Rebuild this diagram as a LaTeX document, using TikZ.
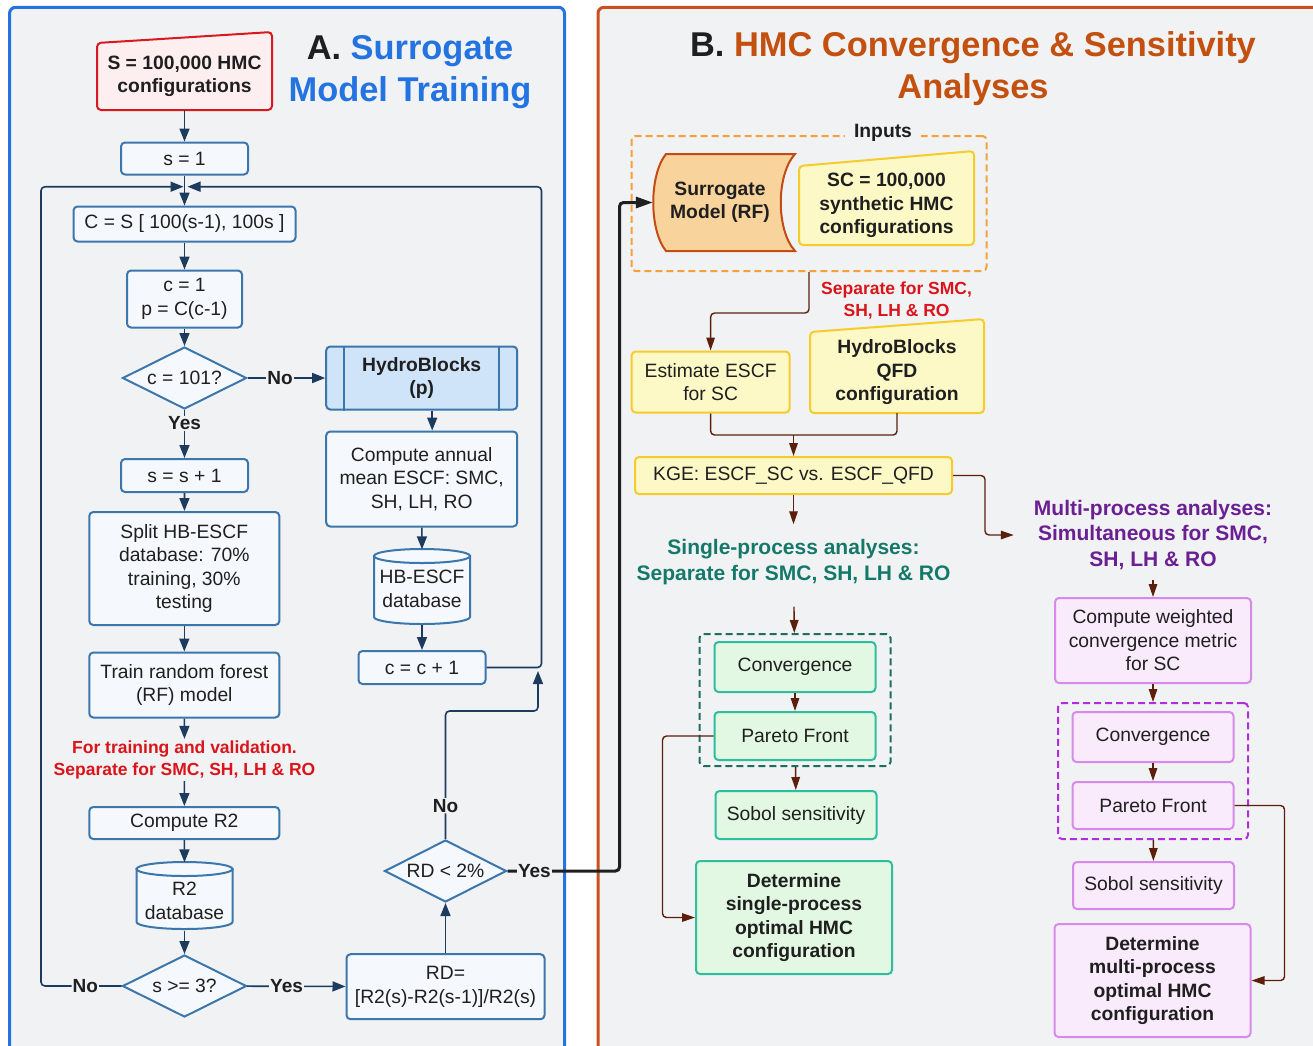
\documentclass[tikz,border=0pt]{standalone}
\usepackage{fontspec}
\setmainfont{Liberation Sans}
\usetikzlibrary{arrows.meta,shapes.geometric,calc}

\definecolor{pagebg}{HTML}{F1F2F4}
\definecolor{ink}{HTML}{1F1F1F}
\definecolor{ablue}{HTML}{2373E0}
\definecolor{aline}{HTML}{3B76AC}
\definecolor{afill}{HTML}{F5F9FD}
\definecolor{anavy}{HTML}{1D3B5E}
\definecolor{hbfill}{HTML}{CFE3F9}
\definecolor{sred}{HTML}{D81920}
\definecolor{sfill}{HTML}{FDEFF0}
\definecolor{notered}{HTML}{D9141B}
\definecolor{borange}{HTML}{C8511D}
\definecolor{btitle}{HTML}{C4500F}
\definecolor{bbrown}{HTML}{5C1F0B}
\definecolor{yline}{HTML}{F6CB2C}
\definecolor{yfill}{HTML}{FDF9C7}
\definecolor{surline}{HTML}{C44B14}
\definecolor{surfill}{HTML}{F8D39C}
\definecolor{indash}{HTML}{F5A03A}
\definecolor{gline}{HTML}{2DBE9E}
\definecolor{gfill}{HTML}{E2F8E2}
\definecolor{gdashc}{HTML}{1E6E5C}
\definecolor{gtext}{HTML}{15796A}
\definecolor{pline}{HTML}{D88AEA}
\definecolor{pfill}{HTML}{F9EAFC}
\definecolor{pdashc}{HTML}{B42CE0}
\definecolor{ptext}{HTML}{6A1F92}

\newcommand\boxfnt{\fontsize{19.3}{23.5}\selectfont}
\newcommand\ttlfnt{\fontsize{34.4}{42}\selectfont\bfseries}
\newcommand\notefnt{\fontsize{17.5}{21.5}\selectfont\bfseries}
\newcommand\headfnt{\fontsize{21}{25.5}\selectfont\bfseries}
\newcommand\ynfnt{\fontsize{19}{22}\selectfont\bfseries}

\begin{document}
\begin{tikzpicture}[x=1pt,y=-1pt,>={Triangle[length=13pt,width=10pt]},
  every node/.style={font=\boxfnt,text=ink},
  abox/.style={draw=aline,fill=afill,line width=2pt,rounded corners=4pt,align=center,inner sep=2pt},
  adia/.style={diamond,aspect=2,draw=aline,fill=afill,line width=2pt,inner sep=0pt,minimum width=124,minimum height=62},
  ybox/.style={abox,draw=yline,fill=yfill},
  gbox/.style={abox,draw=gline,fill=gfill},
  pbox/.style={abox,draw=pline,fill=pfill},
  grpbox/.style={draw=#1,line width=2pt,dash pattern=on 7pt off 4pt,rounded corners=4pt},
  txt/.style={align=center,inner sep=2pt},
  bold/.style={font=\boxfnt\bfseries},
  aarr/.style={->,draw=anavy,line width=1.6pt},
  barr/.style={-{Triangle[length=13pt,width=8.5pt]},draw=bbrown,line width=1.4pt},
  bline/.style={draw=bbrown,line width=1.4pt,rounded corners=4pt},
  yn/.style={fill=pagebg,inner sep=1pt,font=\ynfnt},
  ]

  \def\slantbox#1#2#3#4#5#6{
    \draw[#6,line width=2pt,rounded corners=4pt] (#1,#5) -- (#2,#5) -- (#2,#4) -- (#1,#3) -- cycle;
  }
  \def\dbcyl#1#2#3#4{
    \filldraw[draw=aline,fill=afill,line width=2pt] (#1-#4,#2+7) -- (#1-#4,#3-7)
      arc[start angle=180,end angle=360,x radius=#4pt,y radius=7pt] -- (#1+#4,#2+7) -- cycle;
    \filldraw[draw=aline,fill=afill,line width=2pt] (#1,#2+7) ellipse[x radius=#4pt,y radius=7pt];
  }
  % \draw[gray!30,step=50] (0,0) grid (1313,1045);
  \useasboundingbox (0,0) rectangle (1313,1045);
  \clip (0,0) rectangle (1313,1045);
  \fill[white] (0,0) rectangle (1313,1045);
  \draw[line width=3pt,draw=ablue,fill=pagebg,rounded corners=6pt] (9.6,7.3) rectangle (564.5,1080);
  \draw[line width=3pt,draw=borange,fill=pagebg,rounded corners=6pt] (598,7.3) rectangle (1340,1080);

  % A
  \node[txt,font=\ttlfnt,text=ablue] (titleA) at (410,72) {{\color{ink}A.} Surrogate\\Model Training};
  \slantbox{97}{272}{43}{32}{110}{draw=sred,fill=sfill}
  \node[txt,bold,minimum width=175,minimum height=67] (sin) at (184.5,76.5) {S = 100,000 HMC\\configurations};
  \node[abox,minimum width=127,minimum height=32] (s1) at (184.5,158.5) {s = 1};
  \coordinate (jn) at (184.5,186.7);
  \node[abox,minimum width=222,minimum height=35] (cbox) at (184.5,224) {C = S [ 100(s-1), 100s ]};
  \node[abox,minimum width=115,minimum height=57] (c1) at (184.5,299) {c = 1\\p = C(c-1)};
  \node[adia] (c101) at (184.5,378) {c = 101?};
  \node[abox,bold,fill=hbfill,minimum width=191,minimum height=63] (hb) at (421.7,378) {HydroBlocks\\(p)};
  \draw[aline,line width=2pt] ([xshift=19pt]hb.north west) -- ([xshift=19pt]hb.south west)
    ([xshift=-19pt]hb.north east) -- ([xshift=-19pt]hb.south east);
  \node[abox,minimum width=191,minimum height=95] (cam) at (421.7,479) {Compute annual\\mean ESCF: SMC,\\SH, LH, RO};
  \dbcyl{422}{549}{624}{48}
  \node[txt,minimum width=96,minimum height=71] (hbdb) at (422,589) {HB-ESCF\\database};
  \node[abox,minimum width=127,minimum height=33] (cc1) at (422,667.5) {c = c + 1};
  \node[abox,minimum width=127,minimum height=33] (ss1) at (184.5,475.5) {s = s + 1};
  \node[abox,minimum width=190,minimum height=113] (split) at (184.3,568.5) {Split HB-ESCF\\database: 70\%\\training, 30\%\\testing};
  \node[abox,minimum width=190,minimum height=65] (train) at (184.3,685) {Train random forest\\(RF) model};
  \node[txt,text=notered,font=\notefnt] (noteA) at (184.5,760) {For training and validation.\\Separate for SMC, SH, LH \& RO};
  \node[abox,minimum width=190,minimum height=32] (r2) at (184.3,823) {Compute R2};
  \dbcyl{184.5}{862}{929}{48}
  \node[txt,minimum width=96,minimum height=59] (r2db) at (184.5,901) {R2\\database};
  \node[adia] (s3) at (184.5,986) {s >= 3?};
  \node[abox,minimum width=198,minimum height=65] (rd) at (445.5,986.7) {RD=\\{}[R2(s)-R2(s-1)]/R2(s)};
  \node[adia,minimum width=122] (rd2) at (445.5,871) {RD < 2\%};

  \draw[aarr] (sin) -- (s1);
  \draw[aarr] (s1) -- (cbox);
  \draw[aarr] (cbox) -- (c1);
  \draw[aarr] (c1) -- (c101);
  \draw[aarr] (c101) -- node[yn,pos=0.42]{No} (hb);
  \draw[aarr] ([xshift=10.5pt]hb.south) -- ([xshift=10.5pt]cam.north);
  \draw[aarr] (cam) -- ([yshift=4pt]hbdb.north);
  \draw[aarr] (hbdb) -- (cc1);
  \draw[aarr,rounded corners=4pt] (cc1.east) -- ++(55,0) |- ([xshift=3pt]jn);
  \draw[aarr] (c101) -- node[yn,pos=0.28]{Yes} (ss1);
  \draw[aarr] (ss1) -- (split);
  \draw[aarr] (split) -- (train);
  \draw[aarr] (train) -- (noteA);
  \draw[aarr] (noteA) -- (r2);
  \draw[aarr] (r2) -- ([yshift=9pt]r2db.north);
  \draw[aarr] (r2db) -- (s3);
  \draw[aarr] (s3) -- node[yn,pos=0.4]{Yes} (rd);
  \draw[aarr,rounded corners=4pt] (s3.west) -- node[yn,pos=0.45]{No} ++(-80.5,0) |- ([xshift=-1pt]jn);
  \draw[aarr] (rd) -- (rd2);
  \coordinate (back) at (538,671);
  \draw[aarr,rounded corners=4pt] (rd2.north) -- node[yn,pos=0.26]{No} ++(0,-128) -| (back);

  % B
  \node[txt,font=\ttlfnt,text=btitle] (titleB) at (973,69) {{\color{ink}B.} HMC Convergence \& Sensitivity\\Analyses};
  \node[grpbox=indash,minimum width=355,minimum height=135] (inputs) at (809,203.5) {};
  \node[bold,fill=pagebg,inner xsep=9pt,inner ysep=2pt] (inlbl) at (883,133) {Inputs};
  \draw[draw=surline,fill=surfill,line width=2pt] (666,154) -- (795,154) .. controls (776,175) and (776,230) .. (795,251)
    -- (666,251) .. controls (649,230) and (649,175) .. (666,154) -- cycle;
  \node[txt,bold,minimum width=134,minimum height=97] (surr) at (720,202.5) {Surrogate\\Model (RF)};
  \slantbox{799}{974}{166}{151}{245}{draw=yline,fill=yfill}
  \node[txt,bold,minimum width=175,minimum height=79] (sc) at (886.5,205.5) {SC = 100,000\\synthetic HMC\\configurations};
  \node[txt,text=notered,font=\notefnt] (noteB) at (896.6,300.5) {Separate for SMC,\\SH, LH \& RO};
  \node[ybox,minimum width=158,minimum height=61] (est) at (710.6,382) {Estimate ESCF\\for SC};
  \slantbox{810}{984}{332}{319}{413}{draw=yline,fill=yfill}
  \node[txt,bold,minimum width=174,minimum height=81] (qfd) at (897,372.5) {HydroBlocks\\QFD\\configuration};
  \coordinate (mrg) at (793.5,435);
  \node[ybox,minimum width=317,minimum height=37] (kge) at (793.5,475.5) {KGE: ESCF\_SC vs. ESCF\_QFD};
  \node[txt,text=gtext,font=\headfnt] (single) at (793.5,562) {Single-process analyses:\\Separate for SMC, SH, LH \& RO};
  \node[txt,text=ptext,font=\headfnt] (multi) at (1153,535) {Multi-process analyses:\\Simultaneous for SMC,\\SH, LH \& RO};

  \node[grpbox=gdashc,minimum width=191,minimum height=132] (ggrp) at (795,700) {};
  \node[gbox,minimum width=161,minimum height=50] (gconv) at (795,667) {Convergence};
  \node[gbox,minimum width=161,minimum height=48] (gpar) at (795,736) {Pareto Front};
  \node[gbox,minimum width=161,minimum height=48] (gsob) at (796,815) {Sobol sensitivity};
  \node[gbox,bold,minimum width=196,minimum height=113] (gdet) at (794,917.5) {Determine\\single-process\\optimal HMC\\configuration};

  \node[pbox,minimum width=196,minimum height=85] (cw) at (1153,640.5) {Compute weighted\\convergence metric\\for SC};
  \node[grpbox=pdashc,minimum width=190,minimum height=136] (pgrp) at (1153,771) {};
  \node[pbox,minimum width=161,minimum height=50] (pconv) at (1153,737) {Convergence};
  \node[pbox,minimum width=161,minimum height=47] (ppar) at (1153,805.5) {Pareto Front};
  \node[pbox,minimum width=161,minimum height=47] (psob) at (1153.5,885.5) {Sobol sensitivity};
  \node[pbox,bold,minimum width=196,minimum height=113] (pdet) at (1152.5,980.5) {Determine\\multi-process\\optimal HMC\\configuration};

  \draw[-{Triangle[length=17pt,width=11pt]},line width=3pt,draw=ink,rounded corners=4pt] (rd2.east) -- node[yn,pos=0.24]{Yes} ++(112,0) |- (surr.west);
  \draw[bline,-{Triangle[length=13pt,width=8.5pt]}] (inputs.south) -- ++(0,41) -| (est.north);
  \draw[bline] (est.south) |- (mrg);
  \draw[bline] (qfd.south) |- (mrg);
  \draw[barr] (mrg) -- (kge.north);
  \draw[barr,shorten >=13pt] (kge) -- (single);
  \draw[bline,-{Triangle[length=13pt,width=8.5pt]},shorten >=18pt] (kge.east) -- ++(32,0) |- (multi.west);
  \draw[barr,shorten <=20pt] (single) -- (ggrp);
  \draw[barr] (gconv) -- (gpar);
  \draw[barr] (ggrp) -- (gsob);
  \draw[bline,-{Triangle[length=13pt,width=8.5pt]}] (gpar.west) -- ++(-51,0) |- (gdet.west);
  \draw[barr,shorten <=8pt] (multi) -- (cw);
  \draw[barr] (cw) -- (pgrp);
  \draw[barr] (pconv) -- (ppar);
  \draw[barr] (pgrp) -- (psob);
  \draw[bline,-{Triangle[length=13pt,width=8.5pt]}] (ppar.east) -- ++(50,0) |- (pdet.east);

\end{tikzpicture}
\end{document}
